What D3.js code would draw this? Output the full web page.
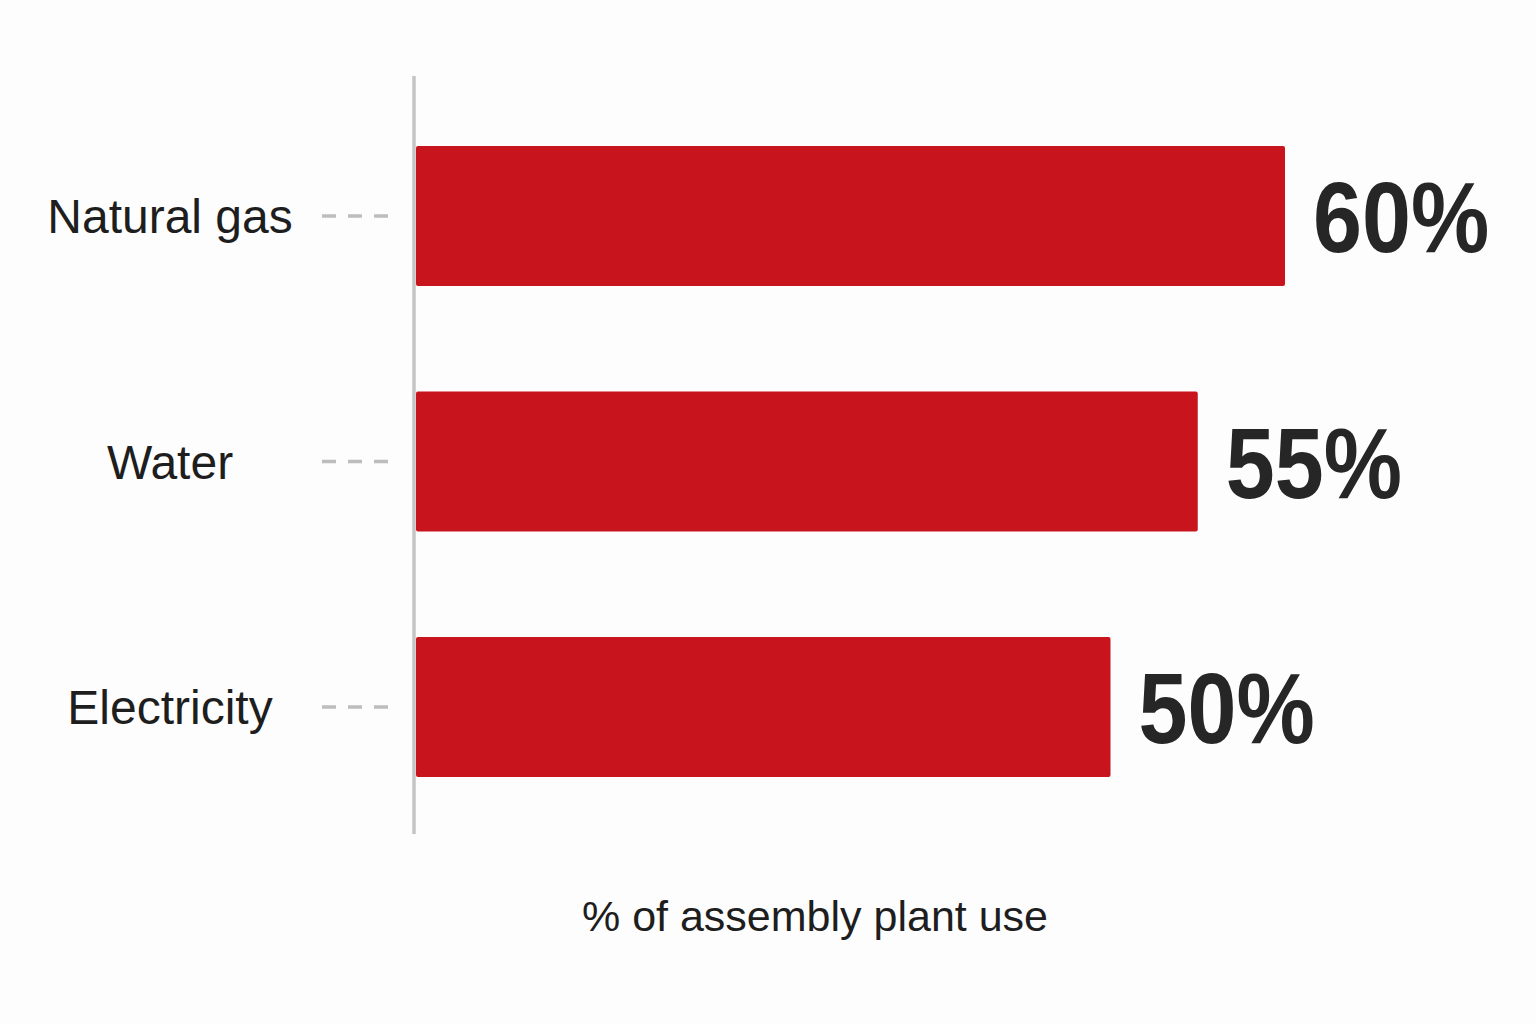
<!DOCTYPE html>
<html>
<head>
<meta charset="utf-8">
<script src="https://cdn.jsdelivr.net/npm/d3@7"></script>
<style>
  html, body { margin: 0; padding: 0; background: #fdfdfd; }
  svg { display: block; }
</style>
</head>
<body>
<div id="chart"></div>
<script>
// data
var categories = ['Natural gas', 'Water', 'Electricity'];
var values = [60, 55, 50];
var valueLabels = ['60%', '55%', '50%'];
var axisTitle = '% of assembly plant use';

var width = 1536, height = 1024;
var svg = d3.select('#chart').append('svg')
    .attr('width', width)
    .attr('height', height);

svg.append('rect').attr('width', width).attr('height', height).attr('fill', '#fdfdfd');

// scales
var x = d3.scaleLinear().domain([10.2, 60]).range([416, 1285]);
var y = d3.scaleBand().domain(categories).range([97, 826]).paddingInner(0.43).paddingOuter(0.2);

var rows = categories.map(function(c, i) {
  return {cat: c, value: values[i], label: valueLabels[i]};
});

// bars
svg.selectAll('rect.bar').data(rows).enter().append('rect')
  .attr('class', 'bar')
  .attr('x', x(10.2))
  .attr('y', function(d) { return y(d.cat); })
  .attr('width', function(d) { return x(d.value) - x(10.2); })
  .attr('height', y.bandwidth())
  .attr('rx', 2)
  .attr('fill', '#c8151d');

// axis line
svg.append('line')
  .attr('x1', 414).attr('x2', 414)
  .attr('y1', 76).attr('y2', 834)
  .attr('stroke', '#c4c4c4')
  .attr('stroke-width', 3.5);

// dashed leaders
svg.selectAll('line.dash').data(rows).enter().append('line')
  .attr('class', 'dash')
  .attr('x1', 322).attr('x2', 388)
  .attr('y1', function(d) { return y(d.cat) + y.bandwidth() / 2; })
  .attr('y2', function(d) { return y(d.cat) + y.bandwidth() / 2; })
  .attr('stroke', '#bdbdbd')
  .attr('stroke-width', 3.5)
  .attr('stroke-dasharray', '14,12');

// category labels
svg.selectAll('text.cat').data(rows).enter().append('text')
  .attr('class', 'cat')
  .attr('x', 170)
  .attr('y', function(d) { return y(d.cat) + y.bandwidth() / 2 + 17; })
  .attr('text-anchor', 'middle')
  .attr('font-family', 'Liberation Sans, Arial, sans-serif')
  .attr('font-size', 48)
  .attr('fill', '#1e1e1e')
  .text(function(d) { return d.cat; });

// value labels
svg.selectAll('text.val').data(rows).enter().append('text')
  .attr('class', 'val')
  .attr('transform', function(d) {
    return 'translate(' + (x(d.value) + 28) + ',' + (y(d.cat) + y.bandwidth() / 2 + 36) + ') scale(0.88,1)';
  })
  .attr('font-family', 'Liberation Sans, Arial, sans-serif')
  .attr('font-weight', 'bold')
  .attr('font-size', 100)
  .attr('fill', '#262626')
  .text(function(d) { return d.label; });

// axis title
svg.append('text')
  .attr('x', 815)
  .attr('y', 931)
  .attr('text-anchor', 'middle')
  .attr('font-family', 'Liberation Sans, Arial, sans-serif')
  .attr('font-size', 43)
  .attr('fill', '#1e1e1e')
  .text(axisTitle);
</script>
</body>
</html>
